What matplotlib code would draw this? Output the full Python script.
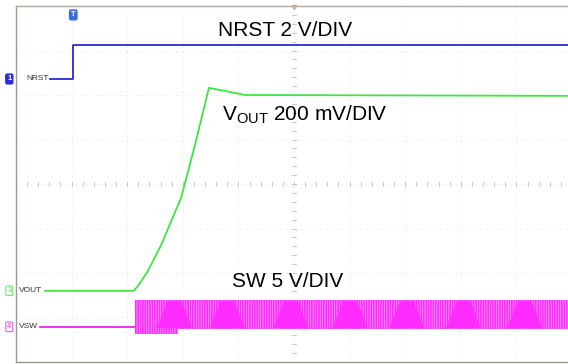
import matplotlib.pyplot as plt
import numpy as np
from matplotlib.patches import Polygon

plt.rcParams['font.family'] = ['Liberation Sans', 'DejaVu Sans']
plt.rcParams['hatch.linewidth'] = 0.45

# all positions are in scope divisions (10 x 8 screen)
nrst_x = [0.61, 1.03, 1.03, 10.2]
nrst_y = [6.36, 6.36, 7.12, 7.12]

vout_x = [0.52, 2.12, 2.20, 2.36, 2.60, 2.97, 3.22, 3.47, 3.76, 4.12, 10.2]
vout_y = [1.60, 1.60, 1.72, 2.02, 2.60, 3.69, 4.88, 6.16, 6.09, 6.00, 5.98]

vsw_idle_x = [0.43, 2.14]
vsw_idle_y = [0.79, 0.79]

# switching burst envelope
sw_x = [2.14, 2.91, 2.91, 10.2]
sw_top = [1.39, 1.39, 1.39, 1.39]
sw_bot = [0.63, 0.63, 0.74, 0.74]

# denser switching patches (trapezoids), centre positions
dense_x = [2.85, 3.80, 4.95, 6.01, 7.03, 8.05, 9.15]

fig = plt.figure(figsize=(5.68, 3.64), dpi=100)
ax = fig.add_axes([16 / 568, 2 / 364, 556 / 568, 356 / 364])
ax.set_xlim(0, 10)
ax.set_ylim(0, 8)
ax.axis('off')

# grid
for gx in range(1, 10):
    ax.axvline(gx, color='#d4d4d4', lw=0.6, ls=(0, (1, 5)), zorder=0)
for gy in range(1, 8):
    ax.axhline(gy, color='#d4d4d4', lw=0.6, ls=(0, (1, 5)), zorder=0)
for t in np.arange(0, 10.01, 0.2):
    ax.plot([t, t], [3.96, 4.04], color='#c0c0c0', lw=0.6, zorder=0)
for t in np.arange(0, 8.01, 0.2):
    ax.plot([4.96, 5.04], [t, t], color='#c0c0c0', lw=0.6, zorder=0)

# frame
ax.plot([0, 0], [0, 8], color='#a09888', lw=1.0, clip_on=False)
ax.plot([0, 10.2], [8, 8], color='#b0a898', lw=1.0, clip_on=False)
ax.plot([0, 10.2], [0, 0], color='#a09888', lw=1.0, clip_on=False)

# traces
ax.plot(nrst_x, nrst_y, color='#2a2ad8', lw=1.3, zorder=3)
ax.plot(vout_x, vout_y, color='#3ee63e', lw=1.3, zorder=3)
ax.plot(vsw_idle_x, vsw_idle_y, color='#ee22ee', lw=1.3, zorder=3)
ax.fill_between(sw_x, sw_bot, sw_top, facecolor='#ff2cff', edgecolor='#ffb4ff',
                hatch='|' * 7, linewidth=0, zorder=2)
for cx in dense_x:
    ax.add_patch(Polygon([[cx - 0.32, 0.76], [cx - 0.12, 1.37], [cx + 0.12, 1.37],
                          [cx + 0.32, 0.76]], closed=True, facecolor='#ff2cff',
                         edgecolor='none', zorder=2))

# channel labels
lab = dict(fontsize=6, color='#333333', va='center', ha='left', zorder=4)
ax.text(0.18, 6.36, 'NRST', **lab)
ax.text(0.06, 1.60, 'VOUT', **lab)
ax.text(0.06, 0.79, 'VSW', **lab)

mk = dict(fontsize=5.5, ha='center', va='center', clip_on=False, zorder=5)
ax.text(-0.12, 6.36, '1', color='white', fontweight='bold',
        bbox=dict(boxstyle='round,pad=0.18', fc='#2a2ad8', ec='#2a2ad8'), **mk)
ax.text(-0.12, 1.60, '3', color='#3ee63e',
        bbox=dict(boxstyle='round,pad=0.18', fc='white', ec='#3ee63e', lw=0.6), **mk)
ax.text(-0.12, 0.79, '4', color='#ee22ee',
        bbox=dict(boxstyle='round,pad=0.18', fc='white', ec='#ee22ee', lw=0.6), **mk)

# trigger markers
ax.text(1.03, 7.8, 'T', color='white', fontweight='bold',
        bbox=dict(boxstyle='round,pad=0.18', fc='#3a6fd8', ec='#3a6fd8'), **mk)
ax.plot([10.14], [6.79], marker='D', ms=3, color='#2a2ad8', clip_on=False)
ax.plot([5.0], [7.97], marker='v', ms=3, color='#c0b0a0', clip_on=False)

# scale annotations
ax.text(3.63, 7.46, 'NRST 2 V/DIV', fontsize=15, va='center', ha='left', zorder=6)
ax.text(3.71, 5.55, r'V$_{\mathregular{OUT}}$ 200 mV/DIV', fontsize=15,
        va='center', ha='left', zorder=6)
ax.text(3.88, 1.80, 'SW 5 V/DIV', fontsize=15, va='center', ha='left', zorder=6)

fig.savefig('out.png', dpi=100)
